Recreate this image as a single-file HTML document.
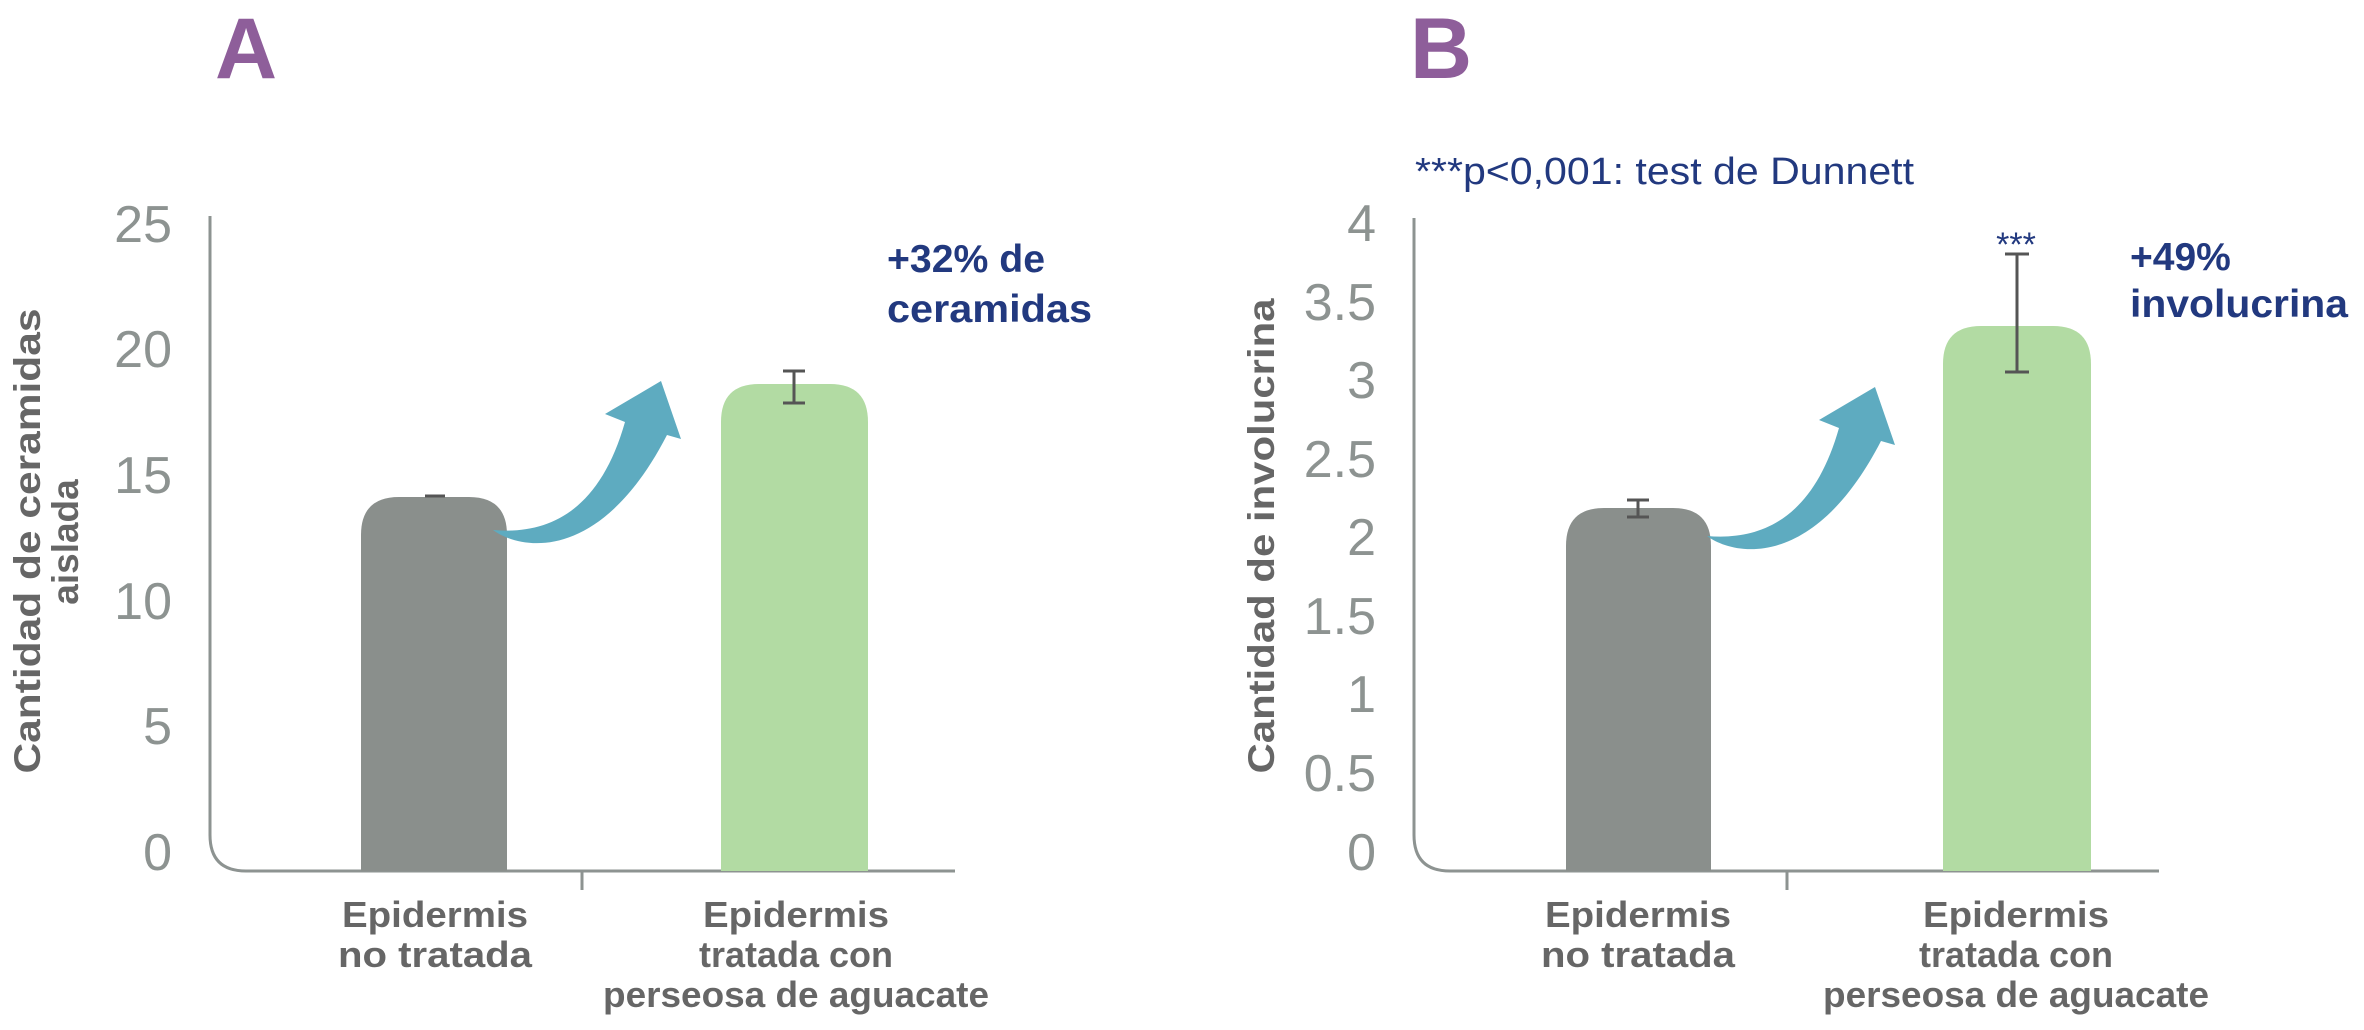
<!DOCTYPE html>
<html><head><meta charset="utf-8"><style>
html,body{margin:0;padding:0;background:#fff;}
svg{display:block;}
text{font-family:"Liberation Sans",sans-serif;}
</style></head><body>
<svg width="2364" height="1030" viewBox="0 0 2364 1030" xmlns="http://www.w3.org/2000/svg">
<!-- Panel A -->
<text x="215" y="78" font-size="86" font-weight="bold" fill="#8e5e9a">A</text>
<g fill="#8d9391" font-size="52" text-anchor="end">
<text x="172" y="242">25</text>
<text x="172" y="367">20</text>
<text x="172" y="493">15</text>
<text x="172" y="619">10</text>
<text x="172" y="744">5</text>
<text x="172" y="870">0</text>
</g>
<path d="M210,216 V835 Q210,871 246,871 H955" fill="none" stroke="#8d9391" stroke-width="3"/>
<line x1="582" y1="871" x2="582" y2="890" stroke="#8d9391" stroke-width="3"/>
<path d="M361,871 V535 Q361,497 399,497 H469 Q507,497 507,535 V871 Z" fill="#8a8f8c"/>
<path d="M721,871 V422 Q721,384 759,384 H830 Q868,384 868,422 V871 Z" fill="#b2dba3"/>
<g stroke="#555" stroke-width="3">
<line x1="425" y1="496" x2="445" y2="496"/>
<line x1="794" y1="371" x2="794" y2="403"/><line x1="783" y1="371" x2="805" y2="371"/><line x1="783" y1="403" x2="805" y2="403"/>
</g>
<path d="M493,530 C520,550 600,565 667,435 L681,439 L661,381 L605,414 L625,422 C600,510 550,535 493,530 Z" fill="#5eabc0"/>
<g fill="#22397f" font-size="39" font-weight="bold">
<text x="887" y="272" textLength="158" lengthAdjust="spacingAndGlyphs">+32% de</text>
<text x="887" y="322" textLength="205" lengthAdjust="spacingAndGlyphs">ceramidas</text>
</g>
<g fill="#666" font-size="37" font-weight="bold" text-anchor="middle">
<text transform="translate(40,541) rotate(-90)" textLength="465" lengthAdjust="spacingAndGlyphs">Cantidad de ceramidas</text>
<text transform="translate(78,542) rotate(-90)">aislada</text>
</g>
<g fill="#666" font-size="36" font-weight="bold" text-anchor="middle">
<text x="435" y="927" textLength="186" lengthAdjust="spacingAndGlyphs">Epidermis</text>
<text x="435" y="967" textLength="194" lengthAdjust="spacingAndGlyphs">no tratada</text>
<text x="796" y="927" textLength="186" lengthAdjust="spacingAndGlyphs">Epidermis</text>
<text x="796" y="967" textLength="194" lengthAdjust="spacingAndGlyphs">tratada con</text>
<text x="796" y="1007" textLength="386" lengthAdjust="spacingAndGlyphs">perseosa de aguacate</text>
</g>

<!-- Panel B -->
<text x="1410" y="78" font-size="86" font-weight="bold" fill="#8e5e9a">B</text>
<text x="1415" y="184" font-size="38" fill="#22397f" textLength="499" lengthAdjust="spacingAndGlyphs">***p&lt;0,001: test de Dunnett</text>
<g fill="#8d9391" font-size="52" text-anchor="end">
<text x="1376" y="241">4</text>
<text x="1376" y="320">3.5</text>
<text x="1376" y="398">3</text>
<text x="1376" y="477">2.5</text>
<text x="1376" y="555">2</text>
<text x="1376" y="634">1.5</text>
<text x="1376" y="712">1</text>
<text x="1376" y="791">0.5</text>
<text x="1376" y="870">0</text>
</g>
<path d="M1414,218 V835 Q1414,871 1450,871 H2159" fill="none" stroke="#8d9391" stroke-width="3"/>
<line x1="1787" y1="871" x2="1787" y2="890" stroke="#8d9391" stroke-width="3"/>
<path d="M1566,871 V546 Q1566,508 1604,508 H1673 Q1711,508 1711,546 V871 Z" fill="#8a8f8c"/>
<path d="M1943,871 V364 Q1943,326 1981,326 H2053 Q2091,326 2091,364 V871 Z" fill="#b2dba3"/>
<g stroke="#555" stroke-width="3">
<line x1="1638" y1="500" x2="1638" y2="517"/><line x1="1627" y1="500" x2="1649" y2="500"/><line x1="1627" y1="517" x2="1649" y2="517"/>
<line x1="2017" y1="254" x2="2017" y2="372"/><line x1="2005" y1="254" x2="2029" y2="254"/><line x1="2005" y1="372" x2="2029" y2="372"/>
</g>
<text x="2016" y="256" font-size="34" fill="#22397f" text-anchor="middle">***</text>
<path d="M493,530 C520,550 600,565 667,435 L681,439 L661,381 L605,414 L625,422 C600,510 550,535 493,530 Z" fill="#5eabc0" transform="translate(1214,6)"/>
<g fill="#22397f" font-size="39" font-weight="bold">
<text x="2130" y="270">+49%</text>
<text x="2130" y="317" textLength="218" lengthAdjust="spacingAndGlyphs">involucrina</text>
</g>
<text transform="translate(1274,536) rotate(-90)" fill="#666" font-size="37" font-weight="bold" text-anchor="middle" textLength="475" lengthAdjust="spacingAndGlyphs">Cantidad de involucrina</text>
<g fill="#666" font-size="36" font-weight="bold" text-anchor="middle">
<text x="1638" y="927" textLength="186" lengthAdjust="spacingAndGlyphs">Epidermis</text>
<text x="1638" y="967" textLength="194" lengthAdjust="spacingAndGlyphs">no tratada</text>
<text x="2016" y="927" textLength="186" lengthAdjust="spacingAndGlyphs">Epidermis</text>
<text x="2016" y="967" textLength="194" lengthAdjust="spacingAndGlyphs">tratada con</text>
<text x="2016" y="1007" textLength="386" lengthAdjust="spacingAndGlyphs">perseosa de aguacate</text>
</g>
</svg>
</body></html>
